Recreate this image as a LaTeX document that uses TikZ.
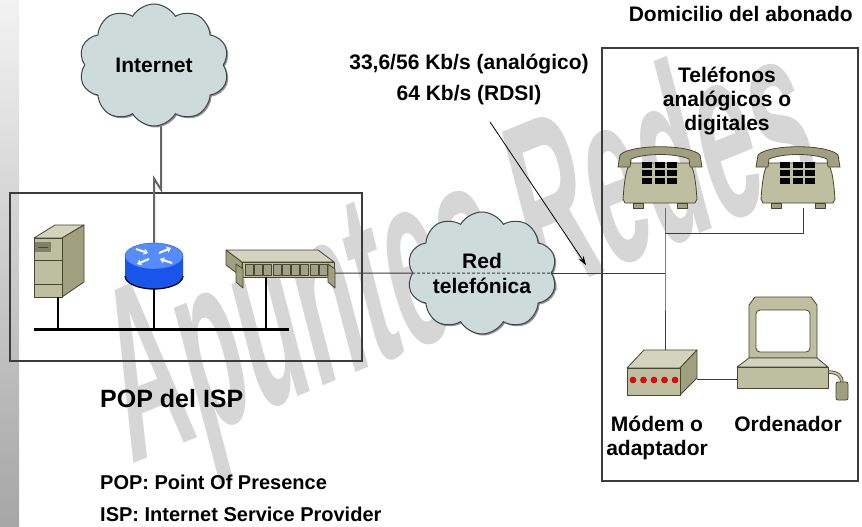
\documentclass[tikz,border=0pt]{standalone}
\usepackage{fontspec}
\setmainfont{Liberation Sans}
\usetikzlibrary{shapes.symbols,arrows.meta,shadows}

\definecolor{cloudfill}{RGB}{206,219,219}
\definecolor{cloudline}{RGB}{60,70,70}
\definecolor{kbody}{RGB}{190,190,160}
\definecolor{klight}{RGB}{212,212,190}
\definecolor{kdark}{RGB}{160,160,128}
\definecolor{kline}{RGB}{70,70,50}
\definecolor{rtrtop}{RGB}{85,140,255}
\definecolor{rtrside}{RGB}{25,85,235}
\definecolor{wire}{RGB}{60,60,60}
\definecolor{wmgray}{RGB}{214,214,214}

\tikzset{
  dev/.style={draw=kline, line width=0.8pt, line join=round},
  rtrarrow/.style={white, line width=2pt, -{Triangle[length=4pt,width=6pt]}},
  server/.pic={
    \filldraw[dev, fill=klight] (-25,-23) -- (-4,-36) -- (25,-36) -- (3,-23) -- cycle;
    \filldraw[dev, fill=kdark] (3,-23) -- (25,-36) -- (25,21) -- (3,36) -- cycle;
    \filldraw[dev, fill=kbody] (-25,-23) rectangle (3,36);
    \draw[kline] (-25,-1) -- (3,-1) (-25,23) -- (3,23);
    \fill[kdark!80!black] (-24,-19) rectangle (-8,-9);
    \draw[kline] (-21,-14) -- (-11,-14);
    \coordinate (-bot) at (-1,36);
  },
  router/.pic={
    \fill[rtrside] (-29,-10) -- (-29,10) arc[start angle=180, end angle=0, x radius=29, y radius=13] -- (29,-10) -- cycle;
    \draw[black, line width=1.2pt] (-29,10) arc[start angle=180, end angle=0, x radius=29, y radius=13];
    \filldraw[fill=rtrtop, draw=rtrside] (0,-10) ellipse[x radius=29, y radius=13];
    \draw[rtrarrow] (-18,-17) -- (-6,-13);
    \draw[rtrarrow] (5,-13) -- (17,-18);
    \draw[rtrarrow] (-5,-7) -- (-17,-2);
    \draw[rtrarrow] (18,-3) -- (6,-7);
    \coordinate (-top) at (0,-23);
    \coordinate (-bot) at (0,23);
  },
  hub/.pic={
    \filldraw[dev, fill=kdark] (-59,-18) -- (-43,-6) -- (-43,9) -- (-59,-3) -- cycle;
    \filldraw[dev, fill=klight] (-59,-18) -- (33,-18) -- (49,-6) -- (-43,-6) -- cycle;
    \filldraw[dev, fill=kbody] (-43,-6) rectangle (49,9);
    \foreach \i in {0,...,8}
      \filldraw[dev, fill=kbody!85!black] ({-40+\i*9.3},-4) rectangle ++(8,11);
    \filldraw[dev, fill=kdark] (-49,-4) -- (-42,1) -- (-42,20) -- (-49,14) -- cycle;
    \filldraw[dev, fill=kdark] (43,-4) -- (50,1) -- (50,20) -- (43,14) -- cycle;
    \coordinate (-bot) at (-19,9);
    \coordinate (-out) at (50,5);
  },
  phone/.pic={
    \filldraw[dev, fill=kbody] (-30,-14) .. controls (-34,-5) .. (-36,10) -- (-37,22) -- (-35,26)
      -- (35,26) -- (37,22) -- (36,10) .. controls (34,-5) .. (30,-14) -- cycle;
    \filldraw[dev, fill=kdark] (-27,26) rectangle (-17,31) (17,26) rectangle (27,31);
    \filldraw[dev, fill=kdark] (-42,-10) -- (-40,-22) .. controls (-30,-33) and (30,-33) .. (40,-22)
      -- (42,-10) -- (30,-10) -- (29,-18) .. controls (15,-24) and (-15,-24) .. (-29,-18) -- (-30,-10) -- cycle;
    \foreach \c in {0,1,2}
      \foreach \r in {0,1,2}
        \fill[black] ({-18+\c*12.5},{-15+\r*8}) rectangle ++(10,6);
    \coordinate (-cord) at (5,31);
  },
  modem/.pic={
    \filldraw[dev, fill=klight] (-35,-4) -- (-18,-22) -- (35,-22) -- (18,-4) -- cycle;
    \filldraw[dev, fill=kdark] (18,-4) -- (35,-22) -- (35,6) -- (18,23) -- cycle;
    \filldraw[dev, fill=kbody] (-35,-4) rectangle (18,23);
    \foreach \i in {0,...,4}
      \filldraw[fill=red, draw=red!50!black, line width=0.4pt] ({-29+\i*10.5},8) circle[radius=3];
    \coordinate (-top) at (3,-22);
    \coordinate (-out) at (35,7);
  },
  pc/.pic={
    \draw[kline, line width=3.5pt] (44,27) .. controls (55,27) and (59,31) .. (59,38);
    \draw[kbody, line width=2pt] (44,27) .. controls (55,27) and (59,31) .. (59,38);
    \filldraw[dev, fill=kdark, rounded corners=2pt] (53,37) rectangle (65,55);
    \filldraw[dev, fill=kbody] (-34,-40) -- (-28,-48) -- (28,-48) -- (34,-40) -- (34,13) -- (-34,13) -- cycle;
    \filldraw[dev, fill=white, rounded corners=4pt] (-27,-35) rectangle (27,7);
    \filldraw[dev, fill=klight] (-34,13) -- (34,13) -- (45,22) -- (-46,22) -- cycle;
    \filldraw[dev, fill=kbody] (-46,22) rectangle (45,43);
    \coordinate (-in) at (-46,34);
  }
}

\begin{document}
\begin{tikzpicture}[x=1pt, y=-1pt,
  lbl/.style={font=\bfseries\fontsize{21}{24}\selectfont, align=center, inner sep=0pt},
  cloudy/.style={cloud, cloud puffs=10, cloud puff arc=120, aspect=1.4,
    draw=cloudline, fill=cloudfill, line width=1pt, minimum width=150, minimum height=122,
    inner sep=0pt, align=center, font=\bfseries\fontsize{21}{25}\selectfont,
    drop shadow={shadow xshift=1.5pt, shadow yshift=-1.5pt, fill=black!70, opacity=0.6}},
  frame/.style={draw=wire, line width=1.1pt, inner sep=0pt},
  link/.style={draw=wire, line width=1pt},
  bus/.style={line width=3pt},
  drop/.style={line width=2pt},
  wan/.style={draw=black!60, line width=2pt},
  pointer/.style={line width=0.8pt, -{Stealth[length=9pt,width=6pt]}}]

\fill[white] (0,0) rectangle (862,527);
\shade[top color=gray!10, bottom color=gray!70] (0,0) rectangle (19,527);
\useasboundingbox (0,0) rectangle (862,527);

\node[text=wmgray, font=\bfseries\fontsize{250}{250}\selectfont, inner sep=0pt,
  shift={(462,262)}, xscale=0.8, rotate=18, xscale=0.5] (wm) at (0,0) {Apuntes Redes};

% sites
\node[frame, minimum width=352, minimum height=168] (pop) at (186,277) {};
\node[frame, minimum width=256, minimum height=433] (home) at (730,264.5) {};

\node[cloudy] (inet) at (154,65) {Internet};
\node[cloudy] (pstn) at (482,273) {Red\\telefónica};

\pic (srv) at (59,261) {server};
\pic (rtr) at (154,266) {router};
\pic (hub) at (285,268) {hub};
\pic (ph1) at (660,177) {phone};
\pic (ph2) at (798,177) {phone};
\pic (mdm) at (662,372) {modem};
\pic (pc) at (783,345) {pc};

% LAN
\coordinate (bus-l) at (34,329);
\coordinate (bus-r) at (289,329);
\draw[bus] (bus-l) -- (bus-r);
\foreach \d in {srv,rtr,hub}
  \draw[drop] (\d-bot) -- (\d-bot |- bus-l);

\draw[wan] (inet.south) ++(7,0) -- ++(0,63) -- ++(-7,-11) -- (rtr-top);

% telephone line
\coordinate (jack) at (ph1-cord |- pstn.east);
\coordinate (tee) at (665,233);
\draw[link] (hub-out) -- (pstn.west);
\draw[link, dash pattern=on 3pt off 2pt] (pstn.west) -- (pstn.east);
\draw[link] (pstn.east) -- (jack);
\draw[link] (ph1-cord) -- (jack) -- (mdm-top);
\draw[link] (ph2-cord) |- (tee);
\draw[link] (mdm-out) -- (pc-in);

\coordinate (note) at (490,122);
\coordinate (tap) at (586,265);
\draw[pointer] (note) -- (tap);

% texts
\node[lbl, anchor=base east] (homelbl) at (853,22) {Domicilio del abonado};
\node[lbl, anchor=north, font=\bfseries\fontsize{21}{31}\selectfont] (speed) at (469,54)
  {33,6/56 Kb/s (analógico)\\64 Kb/s (RDSI)};
\node[lbl, anchor=north] (phlbl) at (727,67) {Teléfonos\\analógicos o\\digitales};
\node[lbl, anchor=north] (mdmlbl) at (657,416) {Módem o\\adaptador};
\node[lbl, anchor=north] (pclbl) at (788,416) {Ordenador};
\node[lbl, anchor=base west, font=\bfseries\fontsize{25}{30}\selectfont] (poplbl) at (100,407) {POP del ISP};
\node[lbl, anchor=north west, align=left, font=\bfseries\fontsize{20}{32}\selectfont] (legend) at (100,475)
  {POP: Point Of Presence\\ISP: Internet Service Provider};
\end{tikzpicture}
\end{document}
